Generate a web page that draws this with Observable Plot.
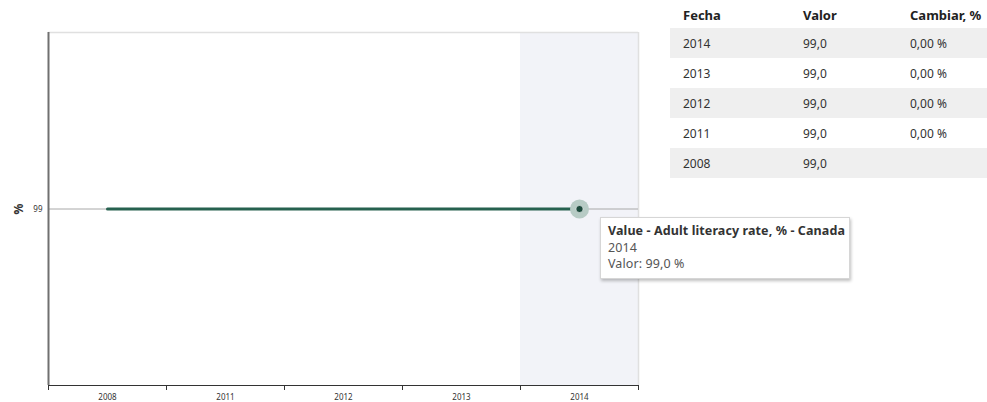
<!DOCTYPE html>
<html>
<head>
<meta charset="utf-8">
<script src="https://cdn.jsdelivr.net/npm/d3@7"></script>
<script src="https://cdn.jsdelivr.net/npm/@observablehq/plot@0.6"></script>
<style>
  html, body { margin: 0; padding: 0; background: #fff; font-family: "Noto Sans", sans-serif; }
  #wrap { position: relative; width: 987px; height: 402px; overflow: hidden; }
  #chart { position: absolute; left: 0; top: 0; }
  #chart svg [aria-label="y-axis label"] text { font-weight: bold; font-size: 12px; }
  #tip { position: absolute; left: 600px; top: 217px; width: 250px; height: 62px; background: #fff;
         border: 1px solid #d6d6d6; box-shadow: 1px 2px 3px rgba(0,0,0,0.25); box-sizing: border-box;
         padding: 5px 0 0 7px; font-size: 12.5px; line-height: 16.5px; color: #555; letter-spacing: 0.1px; }
  #tip b { color: #333; }
  #tbl { position: absolute; left: 670px; top: 0; width: 317px; border-collapse: collapse; font-size: 12px; color: #333; }
  #tbl th { text-align: left; font-weight: bold; font-size: 13px; height: 26px; padding: 2px 0 0 0; vertical-align: middle; color: #222; }
  #tbl td { height: 30px; padding: 0; vertical-align: middle; }
  #tbl tr:nth-child(even) td { background: #efefef; }
  #tbl .c1 { padding-left: 13px; width: 120px; }
  #tbl .c2 { width: 107px; }
</style>
</head>
<body>
<div id="wrap">
  <div id="chart"></div>
  <div id="tip"></div>
  <table id="tbl"></table>
</div>
<script>
const years = ["2008", "2011", "2012", "2013", "2014"];
const values = [99.0, 99.0, 99.0, 99.0, 99.0];
const yTicks = [99];
const yDomain = [98, 100];
const highlightYear = "2014";
const seriesName = "Value - Adult literacy rate, % - Canada";
const unit = "%";
const tableHeaders = ["Fecha", "Valor", "Cambiar, %"];
const tableYears = ["2014", "2013", "2012", "2011", "2008"];
const tableValues = ["99,0", "99,0", "99,0", "99,0", "99,0"];
const tableChanges = ["0,00 %", "0,00 %", "0,00 %", "0,00 %", ""];

const data = years.map((y, i) => ({i, year: y, value: values[i]}));
const hi = years.indexOf(highlightYear);
const boundaries = years.map((_, i) => i - 0.5).concat([years.length - 0.5]);
const centers = years.map((_, i) => i);
const x0 = -0.5, x1 = years.length - 0.5;

const plot = Plot.plot({
  width: 650,
  height: 402,
  marginLeft: 48,
  marginRight: 12,
  marginTop: 32,
  marginBottom: 17,
  style: { fontFamily: "Noto Sans, sans-serif", fontSize: "8px", color: "#333", background: "transparent" },
  x: { type: "linear", domain: [x0, x1], label: null },
  y: { domain: yDomain },
  marks: [
    Plot.rect([hi], { x1: d => d - 0.5, x2: d => d + 0.5, y1: yDomain[0], y2: yDomain[1], fill: "#f2f3f8" }),
    Plot.ruleY([yDomain[1]], { stroke: "#e0e0e0", strokeWidth: 1.5 }),
    Plot.ruleX([x1], { stroke: "#e0e0e0", strokeWidth: 1.5 }),
    Plot.ruleY(yTicks, { stroke: "#a8a8a8", strokeWidth: 1 }),
    Plot.line(data, { x: "i", y: "value", stroke: "#26614f", strokeWidth: 3 }),
    Plot.dot(data.filter(d => d.year === highlightYear), { x: "i", y: "value", r: 9.5, fill: "#b7cbc5", stroke: "none" }),
    Plot.dot(data.filter(d => d.year === highlightYear), { x: "i", y: "value", r: 3.5, fill: "#1d4a3d", stroke: "#fff", strokeWidth: 0.5 }),
    Plot.ruleX([x0], { stroke: "#707070", strokeWidth: 2 }),
    Plot.ruleY([yDomain[0]], { stroke: "#333", strokeWidth: 1 }),
    Plot.axisX({ ticks: boundaries, tickFormat: () => "", tickSize: 5, stroke: "#333", label: null }),
    Plot.axisX({ ticks: centers, tickFormat: i => years[i], tickSize: 0, tickPadding: 9, fill: "#333", label: null }),
    Plot.axisY({ ticks: yTicks, tickFormat: d => String(d), tickSize: 0, tickPadding: 6, label: unit, labelArrow: "none", labelAnchor: "center", labelOffset: 34, fill: "#333" })
  ]
});
document.getElementById("chart").appendChild(plot);

document.getElementById("tip").innerHTML =
  `<b>${seriesName}</b><br>${highlightYear}<br>Valor: ${values[hi].toFixed(1).replace(".", ",")} ${unit}`;

const tbl = document.getElementById("tbl");
let html = `<tr><th class="c1">${tableHeaders[0]}</th><th class="c2">${tableHeaders[1]}</th><th>${tableHeaders[2]}</th></tr>`;
tableYears.forEach((y, i) => {
  html += `<tr><td class="c1">${y}</td><td class="c2">${tableValues[i]}</td><td>${tableChanges[i]}</td></tr>`;
});
tbl.innerHTML = html;
</script>
</body>
</html>
